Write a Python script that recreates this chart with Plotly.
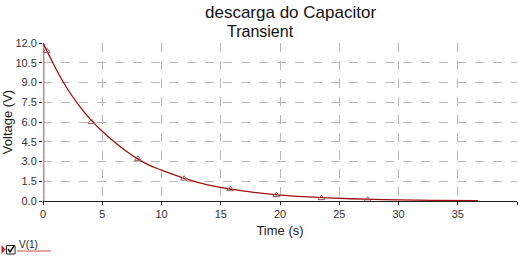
import plotly.graph_objects as go

# curve
t_curve = [0, 1, 2, 3, 4, 5, 6, 7, 8, 9, 10, 12, 14, 16, 18, 20, 22, 24, 26, 28, 30, 33, 36.7]
v_curve = [12.0, 10.2, 8.6, 7.3, 6.2, 5.3, 4.5, 3.8, 3.2, 2.7, 2.35, 1.7, 1.2, 0.88, 0.63, 0.45,
           0.33, 0.24, 0.17, 0.12, 0.08, 0.05, 0.03]
# triangle markers
t_mark = [0.3, 4.1, 8.0, 11.9, 15.8, 19.7, 23.5, 27.4]
v_mark = [11.4, 6.0, 3.2, 1.7, 0.9, 0.45, 0.22, 0.1]
# initial vertical step at t=0
t_step = [0, 0]
v_step = [0, 12]

x_ticks = [0, 5, 10, 15, 20, 25, 30, 35, 40]
y_ticks = [0.0, 1.5, 3.0, 4.5, 6.0, 7.5, 9.0, 10.5, 12.0]

RED = "#a01010"
fig = go.Figure()
fig.add_trace(go.Scatter(x=t_step, y=v_step, mode="lines",
                         line=dict(color="#d08080", width=3), cliponaxis=False, showlegend=False))
fig.add_trace(go.Scatter(x=t_curve, y=v_curve, mode="lines", line=dict(color=RED, width=1.3),
                         line_shape="spline", cliponaxis=False, showlegend=False))
fig.add_trace(go.Scatter(x=t_mark, y=v_mark, mode="markers",
                         marker=dict(symbol="triangle-up-open", size=6, color="#906060", line=dict(width=1)),
                         cliponaxis=False, showlegend=False))

fig.update_layout(
    width=518, height=263,
    margin=dict(l=43, r=1, t=43, b=62),
    paper_bgcolor="white", plot_bgcolor="white",
    font=dict(family="Liberation Sans, Arial", size=11, color="#333333"),
    showlegend=False,
)
fig.update_xaxes(range=[0, 40], tickvals=x_ticks, ticktext=[str(v) for v in x_ticks],
                 showgrid=True, gridcolor="#b8b8b8", griddash="dash", gridwidth=1,
                 showline=True, linecolor="#202020", linewidth=1,
                 ticks="outside", ticklen=3, tickcolor="#202020", zeroline=False,
                 title=dict(text="Time (s)", font=dict(size=13, color="#222"), standoff=6))
fig.update_yaxes(range=[0, 12], tickvals=y_ticks, ticktext=[f"{v:.1f}" for v in y_ticks],
                 showgrid=True, gridcolor="#b8b8b8", griddash="dash", gridwidth=1,
                 showline=False, ticks="outside", ticklen=3, tickcolor="#202020", zeroline=False,
                 title=dict(text="Voltage (V)", font=dict(size=13, color="#222"), standoff=2))


def px(xp):
    return (xp - 43) / (517 - 43)


def py(yp):
    return (201 - yp) / (201 - 43)


# titles
fig.add_annotation(text="descarga do Capacitor", x=px(290), y=py(12), xref="paper", yref="paper",
                   xanchor="center", yanchor="middle",
                   showarrow=False, font=dict(size=17, color="#111"))
fig.add_annotation(text="Transient", x=px(260), y=py(31), xref="paper", yref="paper",
                   xanchor="center", yanchor="middle",
                   showarrow=False, font=dict(size=16, color="#111"))

# legend decoration
fig.add_shape(type="path", path=f"M {px(1.5)} {py(245)} L {px(5.5)} {py(249.5)} L {px(1.5)} {py(254)} Z",
              xref="paper", yref="paper", fillcolor="#d02020", line=dict(width=0))
fig.add_shape(type="rect", x0=px(6.5), x1=px(15), y0=py(254), y1=py(245.5), xref="paper", yref="paper",
              line=dict(color="#222", width=1), fillcolor="white")
fig.add_shape(type="path", path=f"M {px(8)} {py(249)} L {px(10)} {py(252)} L {px(14)} {py(246)}",
              xref="paper", yref="paper", line=dict(color="#111", width=1.5))
fig.add_annotation(text="V(1)", x=px(16.5), y=py(244), xref="paper", yref="paper", showarrow=False,
                   xanchor="left", yanchor="middle", font=dict(size=10, color="#222"))
fig.add_shape(type="line", x0=px(17), x1=px(51), y0=py(251), y1=py(251), xref="paper", yref="paper",
              line=dict(color="#c05050", width=1))

fig.write_html("out.html")
